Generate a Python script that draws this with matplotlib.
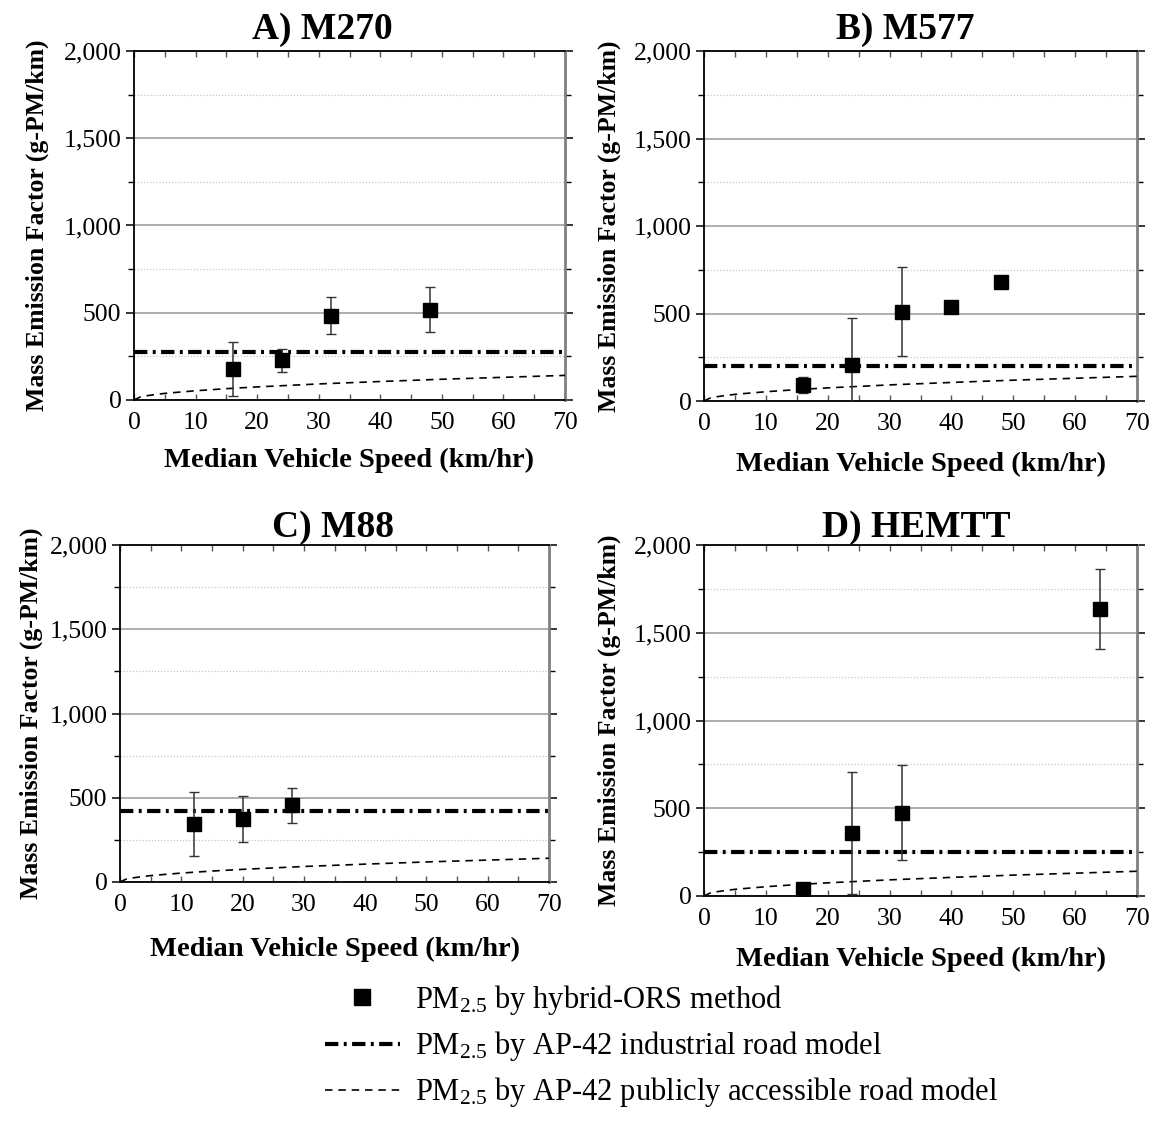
import matplotlib
matplotlib.use("Agg")
import matplotlib.pyplot as plt
from matplotlib.lines import Line2D
from matplotlib.ticker import MultipleLocator, FuncFormatter

plt.rcParams['font.family'] = ['Liberation Serif', 'DejaVu Serif']
plt.rcParams['mathtext.fontset'] = 'custom'
plt.rcParams['mathtext.rm'] = 'Liberation Serif'
plt.rcParams['mathtext.it'] = 'Liberation Serif:italic'
plt.rcParams['mathtext.bf'] = 'Liberation Serif:bold'

# ---- data ----
titles = ["A) M270", "B) M577", "C) M88", "D) HEMTT"]

speed_A = [16, 24, 32, 48]
ef_A = [180, 228, 484, 518]
err_A = [155, 66, 108, 127]
ind_A = 277

speed_B = [16, 24, 32, 40, 48]
ef_B = [90, 204, 510, 535, 680]
err_B = [45, 268, 255, 0, 0]
ind_B = 200

speed_C = [12, 20, 28]
ef_C = [345, 375, 455]
err_C = [190, 138, 103]
ind_C = 423

speed_D = [16, 24, 32, 64]
ef_D = [42, 359, 475, 1637]
err_D = [0, 345, 270, 227]
ind_D = 251

# AP-42 publicly accessible road model curve
pub_speed = [0, 1, 2, 3, 5, 10, 15, 20, 30, 40, 50, 60, 70]
pub_ef = [0, 17, 24, 29, 38, 53, 65, 75, 92, 106, 119, 130, 141]

x_label = "Median Vehicle Speed (km/hr)"
y_label = "Mass Emission Factor (g-PM/km)"
legend_labels = [
    r"PM$_{\mathrm{2.5}}$ by hybrid-ORS method",
    r"PM$_{\mathrm{2.5}}$ by AP-42 industrial road model",
    r"PM$_{\mathrm{2.5}}$ by AP-42 publicly accessible road model",
]

panels = [
    (titles[0], speed_A, ef_A, err_A, ind_A),
    (titles[1], speed_B, ef_B, err_B, ind_B),
    (titles[2], speed_C, ef_C, err_C, ind_C),
    (titles[3], speed_D, ef_D, err_D, ind_D),
]

W, H = 1156, 1123
fig = plt.figure(figsize=(W / 100, H / 100), dpi=100)

# axes boxes in pixels: left, right, top, bottom
boxes = [
    (134, 565, 51, 400),
    (704, 1137, 51, 401),
    (120, 549, 545, 882),
    (704, 1137, 545, 896),
]
# layout tweaks per panel: title x, title pad, xlabel y, ylabel x (axes fraction)
title_x = [0.436, 0.464, 0.497, 0.49]
title_pad = [9, 9, 6, 6]
xlab_y = [-0.1375, -0.146, -0.163, -0.145]
ylab_x = [-0.197, -0.192, -0.18, -0.192]

ind_ls = (0, (3.2, 1.3, 0.7, 1.3))
pub_ls = (0, (4.5, 3.5))

for i, ((title, xs, ys, es, ind), (l, r, t, b)) in enumerate(zip(panels, boxes)):
    ax = fig.add_axes([l / W, 1 - b / H, (r - l) / W, (b - t) / H])
    ax.set_xlim(0, 70)
    ax.set_ylim(0, 2000)
    ax.yaxis.set_major_locator(MultipleLocator(500))
    ax.yaxis.set_minor_locator(MultipleLocator(250))
    ax.xaxis.set_major_locator(MultipleLocator(10))
    ax.xaxis.set_minor_locator(MultipleLocator(5))
    ax.yaxis.set_major_formatter(FuncFormatter(lambda v, p: f"{int(v):,}"))
    ax.grid(True, which='major', axis='y', color='#a0a0a0', lw=1.2, zorder=0)
    ax.grid(True, which='minor', axis='y', color='#c8c8c8', lw=0.9, ls=(0, (1, 1.5)), zorder=0)
    ax.set_axisbelow(True)

    ax.tick_params(axis='y', which='major', direction='out', length=6, width=1.1,
                   labelsize=18.5, pad=3, right=True)
    ax.tick_params(axis='y', which='minor', direction='out', length=4, width=1.0, right=True)
    ax.tick_params(axis='x', which='both', direction='in', length=4, width=1.0,
                   labelsize=18.5, pad=8.5, top=True)
    ax.tick_params(axis='x', which='both', top=True, color='#555555')

    for s in ['left', 'bottom', 'top']:
        ax.spines[s].set_color('black')
        ax.spines[s].set_linewidth(1.3)
    ax.spines['right'].set_color('#808080')
    ax.spines['right'].set_linewidth(2.0)

    ax.plot(pub_speed, pub_ef, color='black', lw=1.2, ls=pub_ls, zorder=3)
    ax.plot([0, 70], [ind, ind], color='black', lw=3.0, ls=ind_ls, zorder=3)

    ax.errorbar(xs, ys, yerr=es, fmt='none', ecolor='#333333', elinewidth=1.1,
                capsize=3.5, capthick=1.0, zorder=4)
    ax.plot(xs, ys, ls='none', marker='s', color='black', markersize=10.5,
            markeredgecolor='black', zorder=5)

    ax.set_title(title, fontsize=27, fontweight='bold', pad=title_pad[i], x=title_x[i])
    ax.set_xlabel(x_label, fontsize=20.5, fontweight='bold')
    ax.set_ylabel(y_label, fontsize=18.5, fontweight='bold')
    ax.xaxis.set_label_coords(0.5, xlab_y[i])
    ax.yaxis.set_label_coords(ylab_x[i], 0.5)

handles = [
    Line2D([], [], ls='none', marker='s', color='black', markersize=11),
    Line2D([], [], color='black', lw=3.0, ls=ind_ls),
    Line2D([], [], color='black', lw=1.2, ls=pub_ls),
]
fig.legend(handles, legend_labels, loc='upper left', bbox_to_anchor=(325 / W, 1 - 983 / H),
           frameon=False, fontsize=22, handlelength=2.45, handletextpad=0.49,
           labelspacing=0.40, borderaxespad=0, borderpad=0)

fig.savefig("out.png", dpi=100)
